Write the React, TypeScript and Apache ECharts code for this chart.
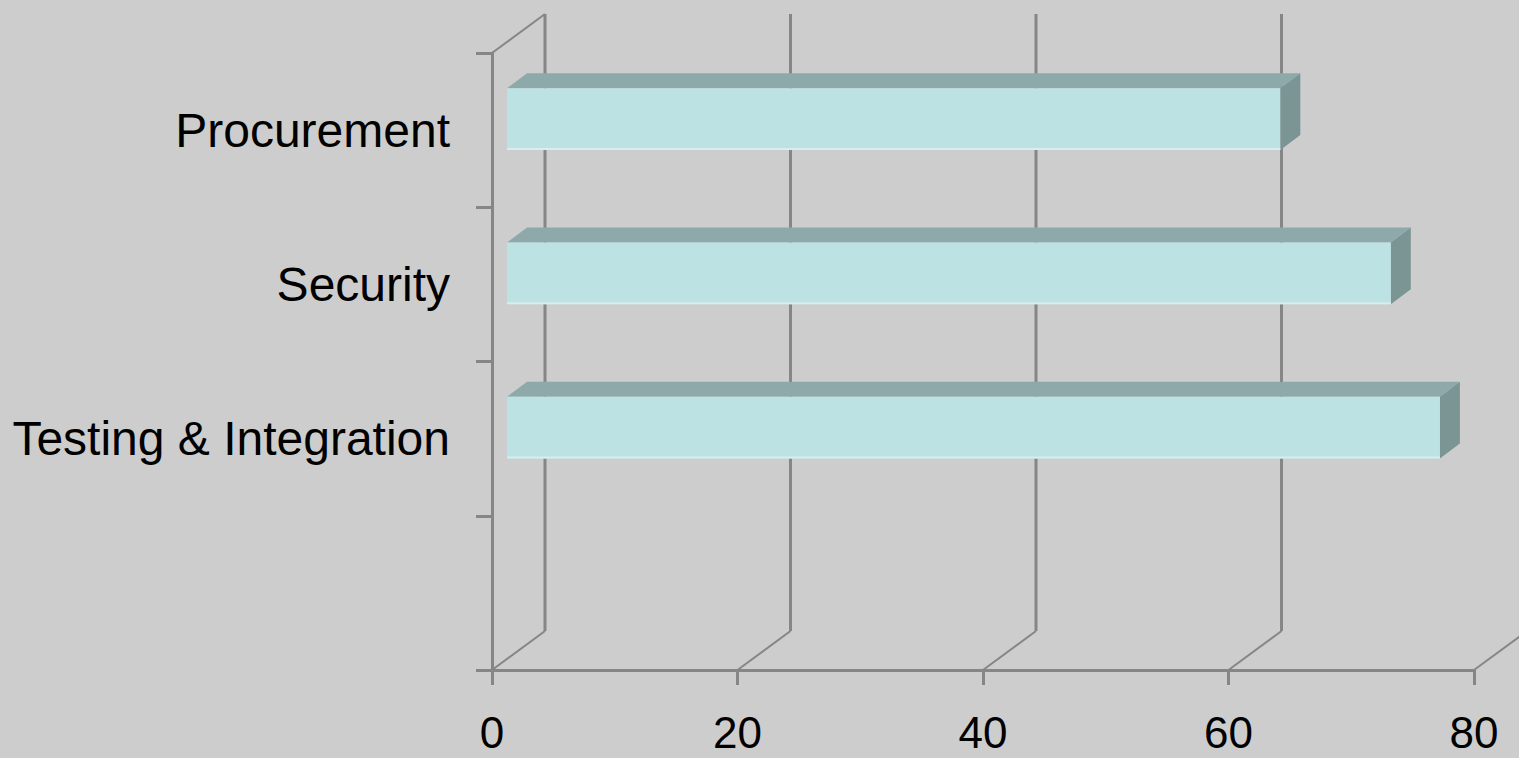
import { useEffect, useRef } from "react";
import * as echarts from "echarts";

// Categories from top to bottom; the last band is left empty.
const categories = ["Procurement", "Security", "Testing & Integration", ""];
const values: (number | null)[] = [63, 72, 76, null];
const xTicks = [0, 20, 40, 60, 80];

// Pseudo-3D geometry (pixels)
const WALL_DX = 53;
const WALL_DY = -39;
const BAR_FRONT_DX = 15;
const BAR_FRONT_DY = -11;
const BAR_DEPTH_X = 20;
const BAR_DEPTH_Y = -15;
const BAR_RATIO = 0.4;

const AXIS_COLOR = "#868686";
const BG = "#cdcdcd";
const FRONT = "#bce2e4";
const TOP = "#8ea9aa";
const SIDE = "#7a9594";
const FONT = "Liberation Sans, Arial, sans-serif";

export default function App() {
  const ref = useRef<HTMLDivElement>(null);

  useEffect(() => {
    const chart = echarts.init(ref.current!, null, { renderer: "svg" });

    const barData = values
      .map((v, i) => [v, i])
      .filter((d) => d[0] != null);

    chart.setOption({
      animation: false,
      backgroundColor: BG,
      grid: { left: 492, right: 45, top: 53, bottom: 88, containLabel: false },
      xAxis: {
        type: "value",
        min: 0,
        max: 80,
        interval: 20,
        axisLine: { show: true, lineStyle: { color: AXIS_COLOR, width: 3 } },
        axisTick: { show: true, length: 15, lineStyle: { color: AXIS_COLOR, width: 3 } },
        splitLine: { show: false },
        axisLabel: {
          color: "#000",
          fontFamily: FONT,
          fontSize: 44,
          lineHeight: 44,
          margin: 40,
        },
      },
      yAxis: {
        type: "category",
        inverse: true,
        data: categories,
        axisLine: { show: true, lineStyle: { color: AXIS_COLOR, width: 3 } },
        axisTick: {
          show: true,
          length: 16,
          interval: 0,
          lineStyle: { color: AXIS_COLOR, width: 3 },
        },
        splitLine: { show: false },
        axisLabel: {
          color: "#000",
          fontFamily: FONT,
          fontSize: 48,
          margin: 42,
          interval: 0,
        },
      },
      series: [
        {
          type: "custom",
          name: "walls",
          silent: true,
          z: 1,
          data: xTicks.map((v) => [v, 0]),
          renderItem: (params: any, api: any) => {
            const v = api.value(0);
            const cs = params.coordSys;
            const x = api.coord([v, 0])[0];
            const top = cs.y;
            const bottom = cs.y + cs.height;
            const children: any[] = [
              {
                type: "line",
                shape: { x1: x, y1: bottom, x2: x + WALL_DX, y2: bottom + WALL_DY },
                style: { stroke: AXIS_COLOR, lineWidth: 2 },
              },
              {
                type: "line",
                shape: {
                  x1: x + WALL_DX,
                  y1: bottom + WALL_DY,
                  x2: x + WALL_DX,
                  y2: top + WALL_DY,
                },
                style: { stroke: AXIS_COLOR, lineWidth: 3 },
              },
            ];
            if (params.dataIndex === 0) {
              children.push({
                type: "line",
                shape: { x1: x, y1: top, x2: x + WALL_DX, y2: top + WALL_DY },
                style: { stroke: AXIS_COLOR, lineWidth: 2 },
              });
            }
            return { type: "group", children };
          },
        },
        {
          type: "custom",
          name: "bars",
          z: 3,
          data: barData,
          encode: { x: 0, y: 1 },
          renderItem: (params: any, api: any) => {
            const v = api.value(0);
            const idx = api.value(1);
            const p0 = api.coord([0, idx]);
            const p1 = api.coord([v, idx]);
            const band = api.size([0, 1])[1];
            const h = band * BAR_RATIO;
            const x0 = p0[0] + BAR_FRONT_DX;
            const x1 = p1[0] + BAR_FRONT_DX;
            const yT = p0[1] + BAR_FRONT_DY - h / 2;
            const yB = yT + h;
            return {
              type: "group",
              children: [
                {
                  type: "polygon",
                  shape: {
                    points: [
                      [x0, yT],
                      [x1, yT],
                      [x1 + BAR_DEPTH_X, yT + BAR_DEPTH_Y],
                      [x0 + BAR_DEPTH_X, yT + BAR_DEPTH_Y],
                    ],
                  },
                  style: { fill: TOP },
                },
                {
                  type: "polygon",
                  shape: {
                    points: [
                      [x1, yT],
                      [x1 + BAR_DEPTH_X, yT + BAR_DEPTH_Y],
                      [x1 + BAR_DEPTH_X, yB + BAR_DEPTH_Y],
                      [x1, yB],
                    ],
                  },
                  style: { fill: SIDE },
                },
                {
                  type: "rect",
                  shape: { x: x0, y: yT, width: x1 - x0, height: h },
                  style: { fill: FRONT },
                },
                {
                  type: "rect",
                  shape: { x: x0, y: yB - 2, width: x1 - x0, height: 2 },
                  style: { fill: "#d8eeee" },
                },
              ],
            };
          },
        },
      ],
    });

    return () => chart.dispose();
  }, []);

  return (
    <div
      ref={ref}
      style={{ position: "fixed", left: 0, top: 0, width: 1519, height: 758 }}
    />
  );
}
